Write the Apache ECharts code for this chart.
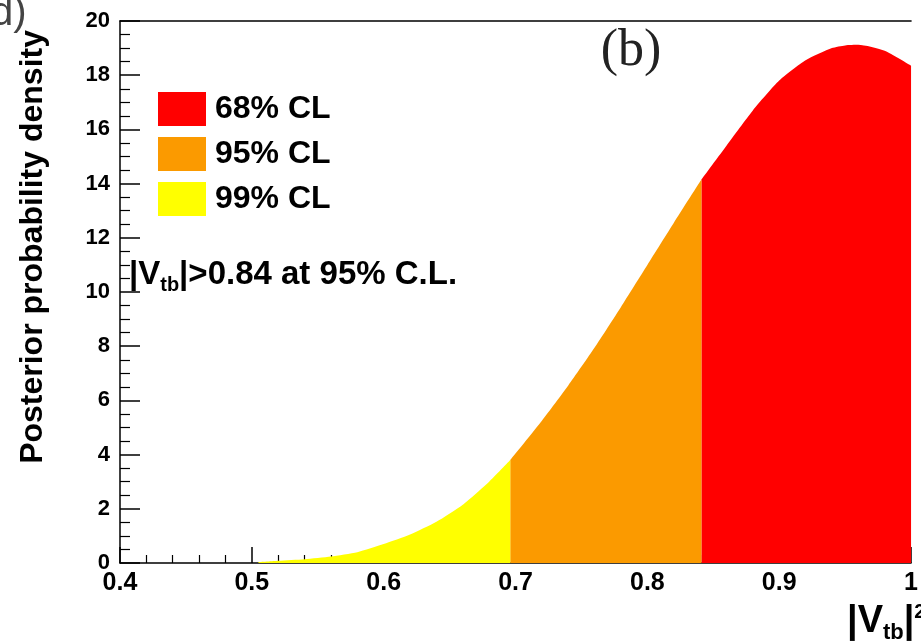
<!DOCTYPE html>
<html>
<head>
<meta charset="utf-8">
<script src="https://cdn.jsdelivr.net/npm/echarts@6/dist/echarts.min.js"></script>
<style>
    html, body { margin: 0; padding: 0; background: #fff; }
    #chart { width: 921px; height: 642px; }
</style>
</head>
<body>
<div id="chart"></div>
<script>
// |Vtb|^2 sample points
var xVals = [0.505, 0.52, 0.54, 0.56, 0.58, 0.60, 0.62, 0.64, 0.66, 0.68, 0.696,
    0.72, 0.74, 0.76, 0.78, 0.80, 0.82, 0.841,
    0.86, 0.88, 0.90, 0.92, 0.94, 0.95, 0.96, 0.98, 1.00];
var density = [0.03, 0.08, 0.14, 0.24, 0.40, 0.70, 1.05, 1.52, 2.15, 3.0, 3.8,
    5.25, 6.55, 7.95, 9.45, 11.0, 12.55, 14.15,
    15.4, 16.7, 17.8, 18.55, 19.0, 19.1, 19.12, 18.9, 18.35];

// credible level bands (x ranges)
var bandNames = ['68% CL', '95% CL', '99% CL'];
var bandFrom = [0.841, 0.696, 0.505];
var bandTo = [1.00, 0.841, 0.696];
var bandColors = ['#ff0000', '#fb9a00', '#ffff00'];

var xTicks = ['0.4', '0.5', '0.6', '0.7', '0.8', '0.9', '1'];
var yTicks = [0, 2, 4, 6, 8, 10, 12, 14, 16, 18, 20];

var font = 'Liberation Sans, Arial, sans-serif';

var myChart = echarts.init(document.getElementById('chart'));

var series = bandNames.map(function(name, i) {
    var pts = [];
    xVals.forEach(function(x, j) {
        if (x >= bandFrom[i] && x <= bandTo[i]) {
            pts.push([x, density[j]]);
        }
    });
    return {
        name: name,
        type: 'line',
        data: pts,
        showSymbol: false,
        smooth: 0.2,
        color: bandColors[i],
        lineStyle: { width: 0 },
        areaStyle: { color: bandColors[i], opacity: 1 },
        silent: true,
        z: 2
    };
});

var option = {
    animation: false,
    backgroundColor: '#fff',
    grid: { left: 120, top: 21, right: 7, bottom: 79 },
    legend: {
        orient: 'vertical',
        left: 158,
        top: 92,
        padding: 0,
        itemWidth: 48,
        itemHeight: 34,
        itemGap: 11,
        icon: 'rect',
        data: bandNames,
        textStyle: {
            fontFamily: font,
            fontWeight: 'bold',
            fontSize: 32,
            color: '#000',
            padding: [0, 0, 0, 4]
        }
    },
    xAxis: [{
        type: 'value',
        min: 0.4,
        max: 1.0,
        interval: 0.1,
        axisLine: { lineStyle: { color: '#000', width: 1.5 } },
        axisTick: { inside: true, length: 16, lineStyle: { color: '#000', width: 1.5 } },
        minorTick: { show: true, splitNumber: 5, length: 8, lineStyle: { color: '#000', width: 1.2 } },
        splitLine: { show: false },
        axisLabel: {
            margin: 8,
            fontFamily: font,
            fontWeight: 'bold',
            fontSize: 25,
            color: '#000',
            formatter: function(v) {
                return xTicks[Math.round((v - 0.4) * 10)];
            }
        }
    }, {
        type: 'value',
        position: 'top',
        min: 0.4,
        max: 1.0,
        axisLine: { show: true, lineStyle: { color: '#000', width: 1.5 } },
        axisTick: { show: false },
        axisLabel: { show: false },
        splitLine: { show: false }
    }],
    yAxis: {
        type: 'value',
        min: 0,
        max: 20,
        interval: 2,
        axisLine: { show: true, lineStyle: { color: '#000', width: 1.5 } },
        axisTick: { inside: true, length: 20, lineStyle: { color: '#000', width: 1.5 } },
        minorTick: { show: true, splitNumber: 4, length: 10, lineStyle: { color: '#000', width: 1.2 } },
        splitLine: { show: false },
        axisLabel: {
            margin: 10,
            fontFamily: font,
            fontWeight: 'bold',
            fontSize: 22,
            color: '#000',
            formatter: function(v) {
                return String(yTicks[Math.round(v / 2)]);
            }
        }
    },
    graphic: [{
        type: 'text',
        x: 33,
        y: 30,
        rotation: Math.PI / 2,
        style: {
            text: 'Posterior probability density',
            font: 'bold 32px ' + font,
            fill: '#000',
            align: 'right',
            verticalAlign: 'middle'
        }
    }, {
        type: 'text',
        x: 847,
        y: 600,
        style: {
            text: '|V{s|tb}|{p|2}',
            font: 'bold 38px ' + font,
            fill: '#000',
            rich: {
                s: { font: 'bold 22px ' + font, fill: '#000', padding: [22, 0, 0, 0] },
                p: { font: 'bold 20px ' + font, fill: '#000', padding: [0, 0, 20, 0] }
            }
        }
    }, {
        type: 'text',
        x: 129,
        y: 254,
        style: {
            text: '|V{s|tb}|>0.84 at 95% C.L.',
            font: 'bold 33px ' + font,
            fill: '#000',
            rich: {
                s: { font: 'bold 20px ' + font, fill: '#000', padding: [21, 0, 0, 0] }
            }
        }
    }, {
        type: 'text',
        x: 631,
        y: 51,
        style: {
            text: '(b)',
            font: '52px Liberation Serif, Times New Roman, serif',
            fill: '#222',
            align: 'center',
            verticalAlign: 'middle'
        }
    }, {
        type: 'text',
        x: -9,
        y: -6,
        style: {
            text: 'd)',
            font: '40px ' + font,
            fill: '#444'
        }
    }],
    series: series
};

myChart.setOption(option);
</script>
</body>
</html>
